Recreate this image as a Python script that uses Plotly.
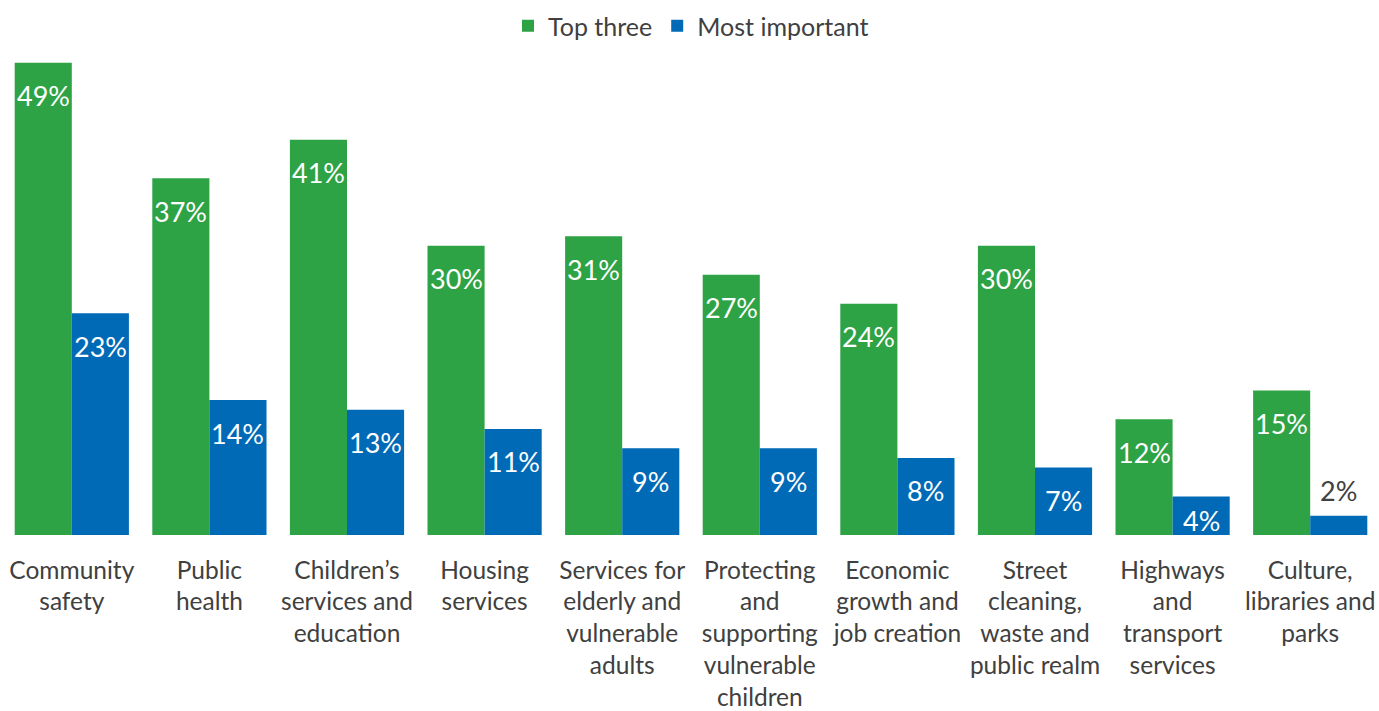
import plotly.graph_objects as go

categories = [
    "Community<br>safety",
    "Public<br>health",
    "Children’s<br>services and<br>education",
    "Housing<br>services",
    "Services for<br>elderly and<br>vulnerable<br>adults",
    "Protecting<br>and<br>supporting<br>vulnerable<br>children",
    "Economic<br>growth and<br>job creation",
    "Street<br>cleaning,<br>waste and<br>public realm",
    "Highways<br>and<br>transport<br>services",
    "Culture,<br>libraries and<br>parks",
]
top_three = [49, 37, 41, 30, 31, 27, 24, 30, 12, 15]
most_important = [23, 14, 13, 11, 9, 9, 8, 7, 4, 2]

GREEN = "#2EA345"
BLUE = "#006AB7"
TEXT = "#404040"
FONT = "Lato"
BARGAP = 0.17
Y_MAX = 50
PLOT_H = 711 - 53 - 174
PX_PER_UNIT = PLOT_H / Y_MAX

fig = go.Figure()
fig.add_trace(go.Bar(name="Top three", x=list(range(len(categories))), y=top_three,
                     marker=dict(color=GREEN, line=dict(width=0))))
fig.add_trace(go.Bar(name="Most important", x=list(range(len(categories))), y=most_important,
                     marker=dict(color=BLUE, line=dict(width=0))))

# value labels: inside near the bar top (kept within short bars), or above tiny bars
offset = (1 - BARGAP) / 4
annotations = []
for series, dx in ((top_three, -offset), (most_important, offset)):
    for i, v in enumerate(series):
        inside = v >= 4
        shift = -min(33, v * PX_PER_UNIT - 15) if inside else 25
        annotations.append(dict(
            x=i + dx, y=v, xref="x", yref="y", text=f"{v}%", showarrow=False,
            yanchor="middle", yshift=shift,
            font=dict(family=FONT, size=27, color="white" if inside else TEXT),
        ))

fig.update_layout(
    width=1379, height=711,
    barmode="group", bargap=BARGAP, bargroupgap=0,
    paper_bgcolor="white", plot_bgcolor="white",
    margin=dict(l=3, r=0, t=53, b=174),
    font=dict(family=FONT, color=TEXT),
    showlegend=True,
    legend=dict(orientation="h", x=0.5, xanchor="center", y=1.056, yanchor="middle",
                font=dict(family=FONT, size=25, color=TEXT), itemwidth=30,
                traceorder="normal"),
    annotations=annotations,
)
fig.update_xaxes(tickmode="array", tickvals=list(range(len(categories))), ticktext=categories,
                 range=[-0.5, len(categories) - 0.5], showline=False, showgrid=False,
                 ticks="", ticklabelstandoff=18,
                 tickfont=dict(family=FONT, size=24.5, color=TEXT), tickangle=0)
fig.update_yaxes(range=[0, Y_MAX], visible=False, showgrid=False, zeroline=False)

fig.write_html("out.html")
